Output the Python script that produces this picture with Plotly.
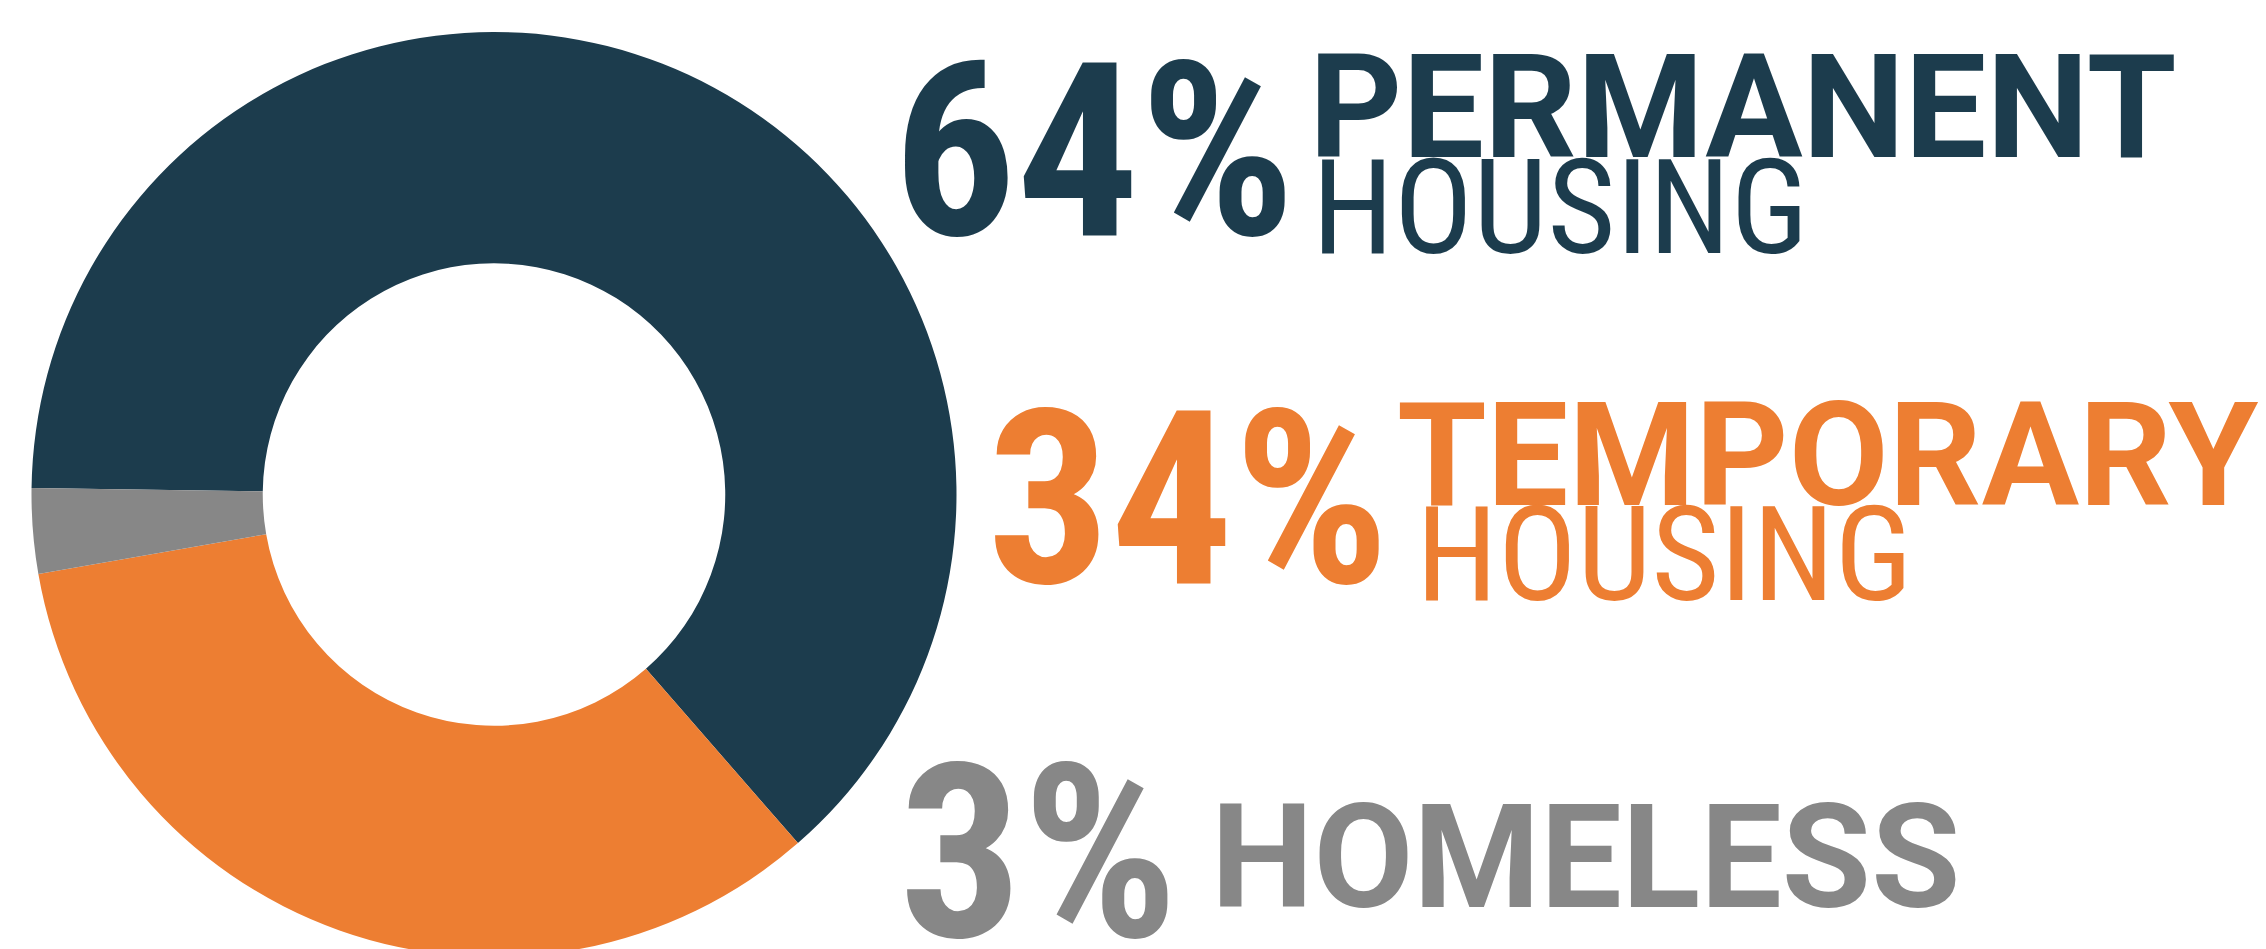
import plotly.graph_objects as go

# ---- data ----
categories = ["Permanent Housing", "Temporary Housing", "Homeless"]
shares = [64, 34, 3]
label_main = ["PERMANENT", "TEMPORARY", "HOMELESS"]
label_sub = ["HOUSING", "HOUSING", ""]

# ---- style ----
colors = ["#1C3C4D", "#ED7E32", "#878787"]
W, H = 2266, 949

fig = go.Figure()
fig.add_trace(go.Pie(
    labels=categories,
    values=shares,
    hole=0.5,
    sort=False,
    direction="clockwise",
    rotation=-89.2,
    marker=dict(colors=colors, line=dict(width=0)),
    textinfo="none",
    hoverinfo="label+percent",
    showlegend=False,
    domain=dict(x=[(486 - 462.5) / W, (486 + 462.5) / W], y=[0, (H - 24) / H]),
))


def px(x):
    return x / W


def py(y):
    return 1 - y / H


NUM_FONT = "Roboto Condensed, Liberation Sans Narrow, Roboto, sans-serif"
HEAD_FONT = "Roboto, Open Sans, sans-serif"
SUB_FONT = "Roboto Condensed, Liberation Sans Narrow, Roboto, sans-serif"

# per-block placement in pixels: (left, vertical centre of box)
blocks = [
    dict(pct=(883, 144), main=(1299, 99), sub=(1302, 199.5)),
    dict(pct=(977, 492), main=(1387, 446.5), sub=(1406, 547)),
    dict(pct=(889, 845.5), main=(1201, 848.5), sub=None),
]

annotations = []
for i, b in enumerate(blocks):
    c = colors[i]
    annotations.append(dict(
        x=px(b["pct"][0]), y=py(b["pct"][1]), xref="paper", yref="paper",
        xanchor="left", yanchor="middle", showarrow=False,
        text=f"{shares[i]}%",
        font=dict(family=NUM_FONT, size=244, color=c, weight=700),
    ))
    annotations.append(dict(
        x=px(b["main"][0]), y=py(b["main"][1]), xref="paper", yref="paper",
        xanchor="left", yanchor="middle", showarrow=False,
        text=label_main[i],
        font=dict(family=HEAD_FONT, size=145, color=c, weight=700),
    ))
    if b["sub"] and label_sub[i]:
        annotations.append(dict(
            x=px(b["sub"][0]), y=py(b["sub"][1]), xref="paper", yref="paper",
            xanchor="left", yanchor="middle", showarrow=False,
            text=label_sub[i],
            font=dict(family=SUB_FONT, size=132, color=c, weight=400),
        ))

fig.update_layout(
    width=W, height=H,
    margin=dict(l=0, r=0, t=0, b=0),
    paper_bgcolor="white",
    plot_bgcolor="white",
    annotations=annotations,
)

fig.write_html("out.html")
